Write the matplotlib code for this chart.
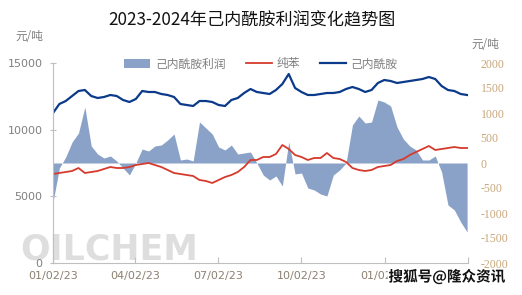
import matplotlib
matplotlib.use("Agg")
import matplotlib.pyplot as plt
import matplotlib.dates as mdates
import matplotlib.patheffects as pe
import pandas as pd
import numpy as np

# ---- data (weekly samples) ----
start_date = "2023-01-02"
n_weeks = 66
dates = pd.date_range(start_date, periods=n_weeks, freq="7D")

caprolactam = [11250, 11925, 12150, 12525, 12900, 12975, 12525, 12375, 12450, 12600,
               12525, 12225, 12075, 12300, 12900, 12825, 12825, 12675, 12600, 12450,
               11925, 11850, 11775, 12150, 12150, 12075, 11850, 11775, 12225, 12375,
               12750, 13050, 12825, 12750, 12675, 12975, 13425, 14175, 13125, 12825,
               12600, 12600, 12675, 12750, 12750, 12825, 13050, 13200, 13050, 12825,
               12975, 13500, 13725, 13650, 13500, 13575, 13650, 13725, 13800, 13950,
               13800, 13275, 12975, 12900, 12675, 12600]

benzene = [6675, 6750, 6825, 6900, 7125, 6750, 6825, 6900, 7050, 7200,
           7125, 7125, 7200, 7350, 7425, 7500, 7350, 7200, 6975, 6750,
           6675, 6600, 6525, 6225, 6150, 6000, 6225, 6450, 6600, 6825,
           7200, 7725, 7725, 7950, 7950, 8175, 8850, 8550, 8100, 7950,
           7725, 7875, 7875, 8250, 7875, 7800, 7575, 7125, 6975, 6900,
           6975, 7200, 7275, 7350, 7650, 7800, 8100, 8325, 8550, 8775,
           8475, 8550, 8625, 8700, 8625, 8625]

profit = [-780, -100, 120, 420, 600, 1120, 340, 180, 100, 140,
          40, -100, -240, 0, 280, 240, 340, 360, 460, 580,
          60, 80, 40, 820, 700, 580, 320, 260, 360, 180,
          200, 220, 0, -240, -340, -260, -460, 420, -220, -200,
          -500, -540, -620, -660, -240, -140, 0, 760, 940, 800,
          820, 1260, 1220, 1140, 720, 480, 340, 260, 60, 60,
          140, -180, -840, -940, -1180, -1380]

left_ticks = [0, 5000, 10000, 15000]
right_ticks = [-2000, -1500, -1000, -500, 0, 500, 1000, 1500, 2000]
x_ticks = ["2023-01-02", "2023-04-02", "2023-07-02", "2023-10-02", "2024-01-02", "2024-04-02"]

title = "2023-2024年己内酰胺利润变化趋势图"
unit = "元/吨"
label_profit = "己内酰胺利润"
label_benzene = "纯苯"
label_cpl = "己内酰胺"

# ---- style ----
CJK = ["Noto Sans CJK SC", "DejaVu Sans"]
plt.rcParams["font.family"] = CJK
plt.rcParams["axes.unicode_minus"] = False

c_area = "#8aa2c7"
c_red = "#d63a2c"
c_blue = "#0b3a8a"
c_gray = "#808080"
c_tan = "#c9a67a"
c_xlab = "#8c8070"

fig = plt.figure(figsize=(5.22, 2.95), dpi=100)
ax = fig.add_axes([53/522, 1-263/295, (468-53)/522, 200/295])
ax2 = ax.twinx()

fill = ax2.fill_between(dates, profit, 0, color=c_area, linewidth=0, label=label_profit)
l_red, = ax.plot(dates, benzene, color=c_red, lw=1.3, label=label_benzene)
l_blue, = ax.plot(dates, caprolactam, color=c_blue, lw=1.6, label=label_cpl)

ax.set_zorder(ax2.get_zorder() + 1)
ax.patch.set_visible(False)

ax.set_ylim(0, 15000)
ax2.set_ylim(-2000, 2000)
xt = pd.to_datetime(x_ticks)
ax.set_xlim(dates[0], xt[-1])

ax.set_yticks(left_ticks)
ax.set_yticklabels([str(v) for v in left_ticks])
ax2.set_yticks(right_ticks)
ax2.set_yticklabels([str(v) for v in right_ticks])
ax.set_xticks(xt)
ax.xaxis.set_major_formatter(mdates.DateFormatter("%m/%d/%y"))

for a in (ax, ax2):
    for s in ("top", "right"):
        a.spines[s].set_visible(False)
ax2.spines["left"].set_visible(False)
ax2.spines["bottom"].set_visible(False)
ax.spines["left"].set_color("#bfbfbf")
ax.spines["bottom"].set_color("#bfbfbf")

ax.tick_params(axis="y", direction="inout", length=5, color="#bfbfbf",
               labelsize=8, labelcolor=c_gray, pad=5)
ax.tick_params(axis="x", direction="in", length=4, color="#bfbfbf",
               labelsize=8, labelcolor=c_xlab, pad=6)
ax2.tick_params(axis="y", length=0, pad=9, labelsize=8.5, labelcolor=c_tan)
for t in ax2.get_yticklabels():
    t.set_fontfamily("Liberation Serif")
for t in ax.get_yticklabels() + ax.get_xticklabels():
    t.set_fontfamily("DejaVu Sans")

fig.text(252/522, 1-20/295, title, ha="center", va="center", fontsize=12.3, color="#111111")
fig.text(15/522, 1-37/295, unit, ha="left", va="center", fontsize=8.4, color=c_gray)
fig.text(471/522, 1-44/295, unit, ha="left", va="center", fontsize=8.4, color=c_gray)

leg = fig.legend(handles=[fill, l_red, l_blue], loc="center",
                 bbox_to_anchor=(261/522, 1-64/295), ncol=3, frameon=False,
                 fontsize=8.5, handlelength=2.2, handletextpad=0.4,
                 columnspacing=1.7, borderaxespad=0)
for t in leg.get_texts():
    t.set_color(c_gray)

# watermarks
fig.text(20/522, 1-249/295, "OILCHEM", ha="left", va="center", fontsize=25,
         fontweight="bold", color="#dedede", family="DejaVu Sans", zorder=0)
fig.text(447/522, 1-277/295, "搜狐号@隆众资讯", ha="center", va="center",
         fontsize=10.5, fontweight="bold", color="#111111", zorder=10,
         bbox=dict(facecolor="white", edgecolor="none", pad=0.3),
         path_effects=[pe.withStroke(linewidth=2, foreground="white")])

fig.savefig("out.png", dpi=100)
